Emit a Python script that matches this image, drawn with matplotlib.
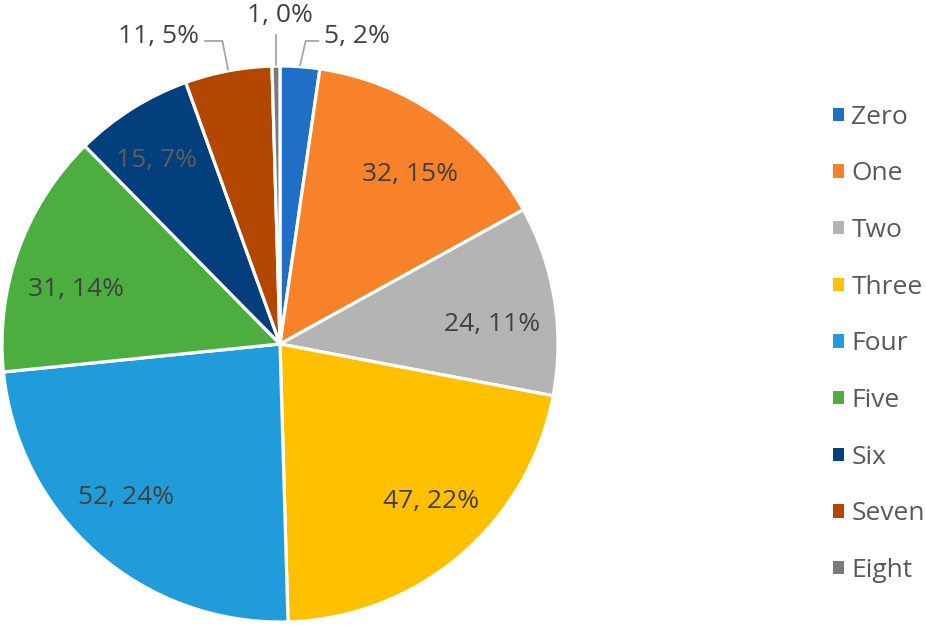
import numpy as np
import matplotlib
matplotlib.use("Agg")
import matplotlib.pyplot as plt
from matplotlib.patches import Patch

# data
categories = ["Zero", "One", "Two", "Three", "Four", "Five", "Six", "Seven", "Eight"]
counts = [5, 32, 24, 47, 52, 31, 15, 11, 1]
colors = ["#1F6FC6", "#F7822A", "#B4B4B4", "#FFC000", "#209CDB",
          "#4CAE3F", "#033F7D", "#B44700", "#7A7A7A"]

plt.rcParams['font.family'] = ['Open Sans', 'DejaVu Sans']

W, H = 926, 625
cx, cy, R = 280, 344, 278  # pie centre / radius in pixels (from top)
FS = 19

# small pixel nudges for inside labels (dx right, dy down), like Excel's best fit
nudge = {1: (7, 9), 2: (-2, 15), 3: (10, -7), 4: (-11, -9), 5: (0, 19), 6: (-8, 0)}

fig = plt.figure(figsize=(W / 100, H / 100), dpi=100)
ax = fig.add_axes([0, 0, 1, 1])

total = sum(counts)
wedges, _ = ax.pie(counts, colors=colors, startangle=90, counterclock=False,
                   wedgeprops=dict(edgecolor="white", linewidth=2.3))

ax.set_xlim(-cx / R, (W - cx) / R)
ax.set_ylim(-(H - cy) / R, cy / R)
ax.set_aspect('equal', adjustable='datalim')
ax.axis('off')

def label_of(i):
    return "{}, {}%".format(counts[i], int(round(100 * counts[i] / total)))

# inside labels
for i, w in enumerate(wedges):
    if counts[i] < 12:
        continue
    mid = np.deg2rad((w.theta1 + w.theta2) / 2)
    dx, dy = nudge.get(i, (0, 0))
    col = "#5E5E5E" if i == 6 else "#404040"
    ax.text(0.78 * np.cos(mid) + dx / R, 0.78 * np.sin(mid) - dy / R, label_of(i),
            ha='center', va='center', fontsize=FS, color=col)

# outside labels with leader lines (Zero, Seven, Eight)
outside = {0: (0.158, 1.105, 'left'), 7: (-0.29, 1.105, 'right'), 8: (0.0, 1.18, 'center')}
for i, (tx, ty, ha) in outside.items():
    w = wedges[i]
    mid = np.deg2rad((w.theta1 + w.theta2) / 2)
    ex, ey = 1.005 * np.cos(mid), 1.005 * np.sin(mid)
    if ha == 'center':
        ax.plot([ex, ex], [ey, ty - 0.07], color="#A6A6A6", lw=1.3)
        ax.text(tx, ty, label_of(i), ha='center', va='center', fontsize=FS, color="#404040")
    else:
        sgn = 1 if ha == 'left' else -1
        kx = ex + sgn * 0.02
        ky = 1.09
        ax.plot([ex, kx, tx - sgn * 0.02], [ey, ky, ky], color="#A6A6A6", lw=1.3)
        ax.text(tx, ty, label_of(i), ha=ha, va='center', fontsize=FS, color="#404040")

handles = [Patch(facecolor=c, edgecolor='none') for c in colors]
leg = fig.legend(handles, categories, loc='center left',
                 bbox_to_anchor=(833 / W, (H - 344) / H), frameon=False,
                 fontsize=FS, handlelength=0.4, handleheight=0.4,
                 handletextpad=0.3, labelspacing=1.2, borderpad=0,
                 borderaxespad=0)
for t in leg.get_texts():
    t.set_color("#595959")

fig.savefig("out.png", dpi=100)
